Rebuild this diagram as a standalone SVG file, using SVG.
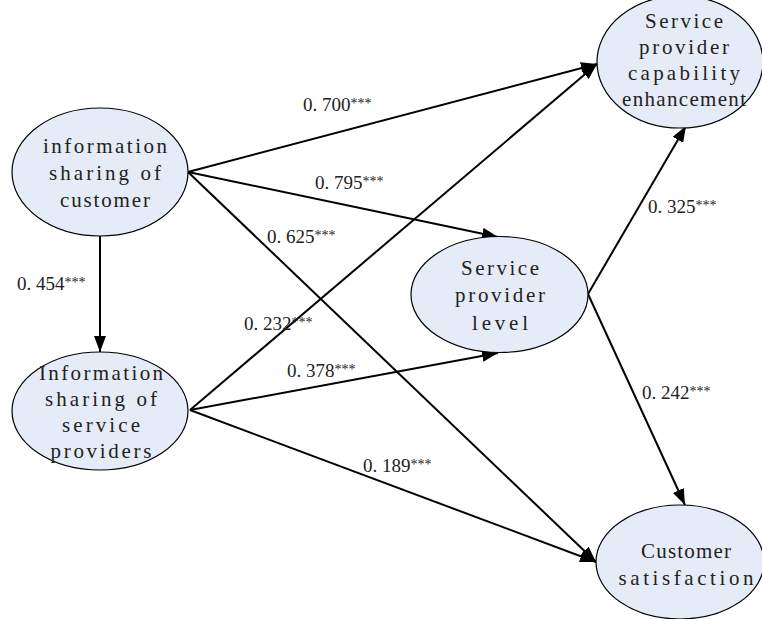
<svg xmlns="http://www.w3.org/2000/svg" width="762" height="619" viewBox="0 0 762 619">
<style>
.node{fill:#e6ecf7;stroke:#000;stroke-width:1.2}
.nt{font-family:"Liberation Serif","Times New Roman",serif;font-size:21px;fill:#222;text-anchor:middle}
.lb{font-family:"Liberation Serif","Times New Roman",serif;font-size:19px;fill:#222}
.st{font-size:14px}
.edge{stroke:#000;stroke-width:2;fill:none;marker-end:url(#arr)}
</style>
<defs>
<marker id="arr" markerUnits="userSpaceOnUse" markerWidth="16" markerHeight="12" refX="16" refY="6" orient="auto">
<path d="M0,0 L16,6 L0,12 z" fill="#000"/>
</marker>
</defs>
<rect width="762" height="619" fill="#fff"/>
<g id="connectors">
<line class="edge" x1="188" y1="172" x2="597" y2="64"/>
<line class="edge" x1="188" y1="172" x2="498" y2="237"/>
<line class="edge" x1="188" y1="172" x2="596" y2="562"/>
<line class="edge" x1="190" y1="410" x2="597" y2="64"/>
<line class="edge" x1="190" y1="410" x2="498" y2="353"/>
<line class="edge" x1="190" y1="410" x2="596" y2="562"/>
<line class="edge" x1="588" y1="294" x2="686" y2="126"/>
<line class="edge" x1="588" y1="294" x2="685" y2="505"/>
<line class="edge" x1="100" y1="236" x2="100" y2="352"/>
</g>
<g id="labels">
<text class="lb" x="303" y="111">0. 700<tspan class="st" dy="-3">***</tspan></text>
<text class="lb" x="315" y="189">0. 795<tspan class="st" dy="-3">***</tspan></text>
<text class="lb" x="267" y="243">0. 625<tspan class="st" dy="-3">***</tspan></text>
<text class="lb" x="17" y="290">0. 454<tspan class="st" dy="-3">***</tspan></text>
<text class="lb" x="244" y="330">0. 232<tspan class="st" dy="-3">***</tspan></text>
<text class="lb" x="287" y="377">0. 378<tspan class="st" dy="-3">***</tspan></text>
<text class="lb" x="363" y="472">0. 189<tspan class="st" dy="-3">***</tspan></text>
<text class="lb" x="648" y="213">0. 325<tspan class="st" dy="-3">***</tspan></text>
<text class="lb" x="642" y="399">0. 242<tspan class="st" dy="-3">***</tspan></text>
</g>
<g id="n1">
<ellipse class="node" cx="100" cy="172" rx="88" ry="64"/>
<text class="nt" x="105" y="153" textLength="124" lengthAdjust="spacing">information</text>
<text class="nt" x="105" y="180" textLength="112" lengthAdjust="spacing">sharing of</text>
<text class="nt" x="105" y="207" textLength="90" lengthAdjust="spacing">customer</text>
</g>
<g id="n2">
<ellipse class="node" cx="100" cy="411" rx="88" ry="59"/>
<text class="nt" x="101" y="380" textLength="124" lengthAdjust="spacing">Information</text>
<text class="nt" x="101" y="406" textLength="112" lengthAdjust="spacing">sharing of</text>
<text class="nt" x="101" y="432" textLength="78" lengthAdjust="spacing">service</text>
<text class="nt" x="101" y="458" textLength="101" lengthAdjust="spacing">providers</text>
</g>
<g id="n3">
<ellipse class="node" cx="680" cy="62" rx="83" ry="66"/>
<text class="nt" x="684" y="28" textLength="78" lengthAdjust="spacing">Service</text>
<text class="nt" x="684" y="54" textLength="90" lengthAdjust="spacing">provider</text>
<text class="nt" x="684" y="80" textLength="112" lengthAdjust="spacing">capability</text>
<text class="nt" x="684" y="106" textLength="124" lengthAdjust="spacing">enhancement</text>
</g>
<g id="n4">
<ellipse class="node" cx="499.5" cy="294.5" rx="88.5" ry="58"/>
<text class="nt" x="500" y="275" textLength="78" lengthAdjust="spacing">Service</text>
<text class="nt" x="500" y="302" textLength="90" lengthAdjust="spacing">provider</text>
<text class="nt" x="500" y="330" textLength="56" lengthAdjust="spacing">level</text>
</g>
<g id="n5">
<ellipse class="node" cx="680" cy="562" rx="84" ry="57"/>
<text class="nt" x="686" y="558" textLength="90" lengthAdjust="spacing">Customer</text>
<text class="nt" x="686" y="585" textLength="135" lengthAdjust="spacing">satisfaction</text>
</g>
</svg>
